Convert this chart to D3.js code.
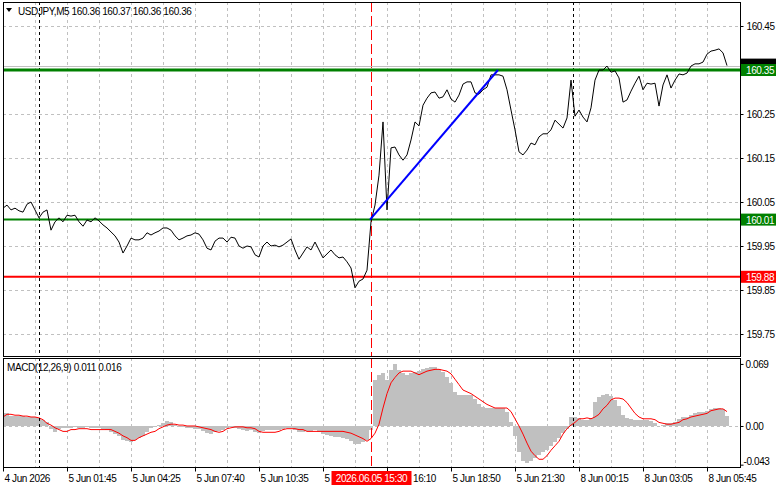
<!DOCTYPE html>
<html>
<head>
<meta charset="utf-8">
<script src="https://cdn.jsdelivr.net/npm/d3@7"></script>
<style>
  body { margin: 0; background: #fff; }
  svg text { font-family: "Liberation Sans", Arial, sans-serif; font-size: 10px; letter-spacing: -0.4px; fill: #000; }
</style>
</head>
<body>
<svg id="chart" width="781" height="489"></svg>
<script>
// close price, sampled every 2nd M5 bar
let closes = [
  160.036,160.043,160.032,160.036,160.030,160.027,160.045,160.050,160.032,160.014,
  160.027,160.032,159.986,160.005,160.014,160.005,160.020,160.018,160.020,160.005,
  159.995,160.009,160.005,160.014,160.007,159.998,159.991,159.982,159.973,159.959,
  159.934,159.950,159.968,159.964,159.964,159.968,159.980,159.975,159.980,159.984,
  159.991,159.991,159.986,159.973,159.964,159.968,159.973,159.975,159.980,159.977,
  159.964,159.945,159.941,159.961,159.968,159.968,159.959,159.970,159.968,159.950,
  159.945,159.950,159.948,159.930,159.925,159.950,159.959,159.950,159.952,159.948,
  159.952,159.959,159.966,159.941,159.920,159.934,159.948,159.941,159.959,159.941,
  159.923,159.932,159.941,159.930,159.923,159.925,159.914,159.900,159.855,159.870,
  159.875,159.895,160.005,160.043,160.111,160.232,160.032,160.173,160.175,160.157,
  160.145,160.157,160.191,160.232,160.223,160.270,160.286,160.298,160.300,160.286,
  160.289,160.305,160.284,160.277,160.293,160.318,160.323,160.323,160.298,160.295,
  160.305,160.311,160.339,160.339,160.339,160.336,160.305,160.259,160.214,160.164,
  160.157,160.168,160.184,160.180,160.198,160.205,160.205,160.214,160.236,160.227,
  160.218,160.241,160.327,160.245,160.259,160.243,160.232,160.264,160.327,160.350,
  160.350,160.359,160.345,160.348,160.332,160.277,160.282,160.302,160.320,160.336,
  160.305,160.320,160.318,160.320,160.268,160.316,160.339,160.309,160.327,160.341,
  160.339,160.343,160.359,160.364,160.364,160.368,160.386,160.393,160.395,160.398,
  160.389,160.360
]

let macdMain = [
  0.014,0.014,0.011,0.011,0.011,0.011,0.010,0.010,0.010,0.009,
  0.007,0.004,-0.003,-0.007,-0.003,-0.002,-0.002,-0.002,-0.001,-0.002,
  -0.002,-0.001,-0.002,-0.002,-0.002,-0.003,-0.004,-0.007,-0.009,-0.011,
  -0.016,-0.017,-0.018,-0.016,-0.013,-0.011,-0.007,-0.002,-0.001,0.001,
  0.003,0.006,0.004,0.001,-0.001,-0.001,-0.002,-0.002,-0.003,-0.003,
  -0.006,-0.008,-0.009,-0.007,-0.006,-0.004,-0.002,-0.001,-0.002,-0.003,
  -0.004,-0.006,-0.004,-0.007,-0.008,-0.006,-0.004,-0.004,-0.004,-0.004,
  -0.003,-0.002,-0.002,-0.004,-0.007,-0.007,-0.006,-0.006,-0.004,-0.007,
  -0.009,-0.010,-0.011,-0.012,-0.012,-0.013,-0.014,-0.017,-0.020,-0.020,
  -0.018,-0.016,-0.004,0.051,0.057,0.059,0.051,0.062,0.069,0.062,
  0.059,0.057,0.059,0.060,0.061,0.063,0.064,0.066,0.066,0.063,
  0.060,0.054,0.048,0.038,0.034,0.034,0.034,0.034,0.030,0.024,
  0.021,0.020,0.020,0.020,0.020,0.020,0.016,0.004,-0.011,-0.029,
  -0.039,-0.041,-0.039,-0.036,-0.032,-0.029,-0.027,-0.022,-0.018,-0.013,
  -0.008,-0.003,0.010,0.010,0.009,0.007,0.007,0.009,0.027,0.032,
  0.034,0.036,0.033,0.029,0.022,0.012,0.009,0.008,0.007,0.007,
  0.007,0.007,0.006,0.003,0.000,0.001,0.003,0.003,0.004,0.008,
  0.010,0.010,0.012,0.014,0.016,0.016,0.017,0.019,0.020,0.020,
  0.019,0.011
]

let macdSignal = [
  0.010,0.013,0.013,0.012,0.012,0.011,0.011,0.010,0.010,0.009,
  0.007,0.003,0.001,-0.002,-0.004,-0.006,-0.006,-0.004,-0.004,-0.003,
  -0.003,-0.003,-0.004,-0.004,-0.004,-0.004,-0.004,-0.004,-0.006,-0.008,
  -0.011,-0.013,-0.016,-0.016,-0.013,-0.011,-0.009,-0.007,-0.006,-0.003,
  -0.001,0.001,0.002,0.002,0.001,0.001,0.000,0.000,0.000,-0.001,
  -0.002,-0.003,-0.004,-0.006,-0.007,-0.006,-0.003,-0.002,-0.001,-0.001,
  -0.001,-0.002,-0.002,-0.003,-0.006,-0.007,-0.007,-0.007,-0.007,-0.006,
  -0.004,-0.003,-0.003,-0.003,-0.004,-0.004,-0.006,-0.006,-0.006,-0.006,
  -0.006,-0.006,-0.006,-0.006,-0.006,-0.006,-0.007,-0.008,-0.010,-0.012,
  -0.014,-0.017,-0.014,-0.008,0.002,0.020,0.036,0.048,0.054,0.059,
  0.061,0.061,0.061,0.059,0.057,0.059,0.061,0.062,0.063,0.063,
  0.062,0.061,0.058,0.052,0.046,0.040,0.038,0.036,0.033,0.030,
  0.027,0.024,0.022,0.020,0.020,0.020,0.020,0.016,0.008,0.000,
  -0.009,-0.019,-0.028,-0.033,-0.037,-0.037,-0.033,-0.027,-0.022,-0.017,
  -0.009,-0.003,0.001,0.004,0.008,0.008,0.009,0.008,0.010,0.013,
  0.019,0.023,0.029,0.031,0.031,0.030,0.026,0.020,0.014,0.010,
  0.008,0.008,0.008,0.007,0.004,0.003,0.002,0.002,0.003,0.004,
  0.007,0.008,0.010,0.011,0.012,0.013,0.014,0.017,0.018,0.019,
  0.019,0.016
]

let timeBars = [0, 32, 64, 96, 128, 160, 192, 224, 256, 288, 320, 352]
let timeLabels = ["4 Jun 2026", "5 Jun 01:45", "5 Jun 04:25", "5 Jun 07:40", "5 Jun 10:35", "5 Jun 13:30",
  "5 Jun 16:10", "5 Jun 18:50", "5 Jun 21:30", "8 Jun 00:15", "8 Jun 03:05", "8 Jun 05:45"]

let priceTicks = [160.45, 160.35, 160.25, 160.15, 160.05, 159.95, 159.85, 159.75]
let macdTicks = [0.069, 0.00, -0.043]
let macdTickLabels = ["0.069", "0.00", "-0.043"]

let levelPrices = [160.35, 160.01, 159.88]
let levelColors = ["#008000", "#008000", "#ff0000"]
let bidPrice = 160.36
let ohlc = [160.36, 160.37, 160.36, 160.36]
let daySeparatorBars = [18, 285]
let markerBar = 184
let markerLabel = "2026.06.05 15:30"
let trendBars = [183.5, 247.5]
let trendPrices = [160.01, 160.35]

let svg = d3.select("#chart")

let left = 3, right = 740
let mainTop = 2, mainBottom = 356
let macdTop = 358, macdBottom = 467

let x = d3.scaleLinear().domain([0, 368]).range([left, left + 736])
let y = d3.scaleLinear().domain([159.70, 160.5023]).range([mainBottom, 3])
let ym = d3.scaleLinear().domain([-0.0456, 0.0756]).range([macdBottom, macdTop])

svg.append("defs").append("clipPath").attr("id", "clipMain")
  .append("rect").attr("x", left).attr("y", mainTop).attr("width", right - left).attr("height", mainBottom - mainTop)
svg.select("defs").append("clipPath").attr("id", "clipMacd")
  .append("rect").attr("x", left).attr("y", macdTop).attr("width", right - left).attr("height", macdBottom - macdTop)

// grid
let gridBars = d3.range(16, 368, 16)
let grid = svg.append("g").attr("stroke", "#c0c0c0").attr("stroke-dasharray", "3,3").attr("shape-rendering", "crispEdges")
gridBars.forEach(b => {
  grid.append("line").attr("x1", Math.round(x(b)) + 0.5).attr("x2", Math.round(x(b)) + 0.5).attr("y1", mainTop).attr("y2", mainBottom)
  grid.append("line").attr("x1", Math.round(x(b)) + 0.5).attr("x2", Math.round(x(b)) + 0.5).attr("y1", macdTop).attr("y2", macdBottom)
})
priceTicks.forEach(p => {
  grid.append("line").attr("x1", left).attr("x2", right).attr("y1", Math.round(y(p)) + 0.5).attr("y2", Math.round(y(p)) + 0.5)
})
grid.append("line").attr("x1", left).attr("x2", right).attr("y1", Math.round(ym(0)) + 0.5).attr("y2", Math.round(ym(0)) + 0.5)

// MACD histogram
let macdG = svg.append("g").attr("clip-path", "url(#clipMacd)")
macdG.selectAll("rect")
  .data(macdMain)
  .join("rect")
  .attr("x", (d, i) => x(2 * i - 1))
  .attr("width", (d, i) => x(2 * i + 1) - x(2 * i - 1))
  .attr("y", d => Math.min(ym(d), ym(0)))
  .attr("height", d => Math.abs(ym(d) - ym(0)))
  .attr("fill", "#c0c0c0")
  .attr("shape-rendering", "crispEdges")

macdG.append("path")
  .datum(macdSignal)
  .attr("fill", "none")
  .attr("stroke", "#ff0000")
  .attr("stroke-width", 1)
  .attr("d", d3.line().x((d, i) => x(2 * i)).y(d => ym(d)))

// separators
daySeparatorBars.forEach(b => {
  let xx = Math.round(x(b)) + 0.5
  ;[[mainTop, mainBottom], [macdTop, macdBottom]].forEach(r => {
    svg.append("line").attr("x1", xx).attr("x2", xx).attr("y1", r[0]).attr("y2", r[1])
      .attr("stroke", "#000").attr("stroke-dasharray", "3,3")
  })
})
let mx = Math.round(x(markerBar)) + 0.5
;[[mainTop, mainBottom], [macdTop, macdBottom]].forEach(r => {
  svg.append("line").attr("x1", mx).attr("x2", mx).attr("y1", r[0]).attr("y2", r[1])
    .attr("stroke", "#ff0000").attr("stroke-dasharray", "10,4")
})

// bid line
svg.append("line").attr("x1", left).attr("x2", right)
  .attr("y1", Math.round(y(bidPrice)) + 0.5).attr("y2", Math.round(y(bidPrice)) + 0.5)
  .attr("stroke", "#c0c0c0")

// levels
levelPrices.forEach((p, i) => {
  svg.append("line").attr("x1", left).attr("x2", right).attr("y1", y(p)).attr("y2", y(p))
    .attr("stroke", levelColors[i]).attr("stroke-width", i == 0 ? 3 : 2)
})

// price line
svg.append("g").attr("clip-path", "url(#clipMain)")
  .append("path")
  .datum(closes)
  .attr("fill", "none")
  .attr("stroke", "#000")
  .attr("stroke-width", 1)
  .attr("d", d3.line().x((d, i) => x(2 * i)).y(d => y(d)))

// trend line
svg.append("line")
  .attr("x1", x(trendBars[0])).attr("y1", y(trendPrices[0]))
  .attr("x2", x(trendBars[1])).attr("y2", y(trendPrices[1]))
  .attr("stroke", "#0000ff").attr("stroke-width", 2)

// frames
let frame = svg.append("g").attr("fill", "none").attr("stroke", "#000").attr("shape-rendering", "crispEdges")
frame.append("rect").attr("x", left + 0.5).attr("y", mainTop + 0.5).attr("width", right - left).attr("height", mainBottom - mainTop)
frame.append("rect").attr("x", left + 0.5).attr("y", macdTop + 0.5).attr("width", right - left).attr("height", macdBottom - macdTop)

// price axis
let yAxis = svg.append("g")
  .attr("transform", `translate(${right + 0.5},0)`)
  .call(d3.axisRight(y).tickValues(priceTicks).tickSize(3).tickPadding(3).tickFormat(d3.format(".2f")))
  .call(g => g.select(".domain").remove())
yAxis.selectAll("text").attr("font-family", null).attr("font-size", null)
  .style("display", d => levelPrices.includes(d) ? "none" : null)
yAxis.selectAll("line").attr("stroke", "#000")

// macd axis
let mAxis = svg.append("g")
  .attr("transform", `translate(${right + 0.5},0)`)
  .call(d3.axisRight(ym).tickValues(macdTicks).tickSize(3).tickPadding(3).tickFormat((d, i) => macdTickLabels[i]))
  .call(g => g.select(".domain").remove())
mAxis.selectAll("text").attr("font-family", null).attr("font-size", null)
  .attr("x", (d, i) => i == 2 ? 3 : 5)
  .attr("dy", (d, i) => i == 2 ? "-0.05em" : "0.32em")
mAxis.selectAll("line").attr("stroke", "#000")

// level labels (bid box mostly hidden behind the 160.35 box)
let bidY = y(bidPrice)
svg.append("rect").attr("x", right + 1).attr("y", bidY - 7).attr("width", 35).attr("height", 12).attr("fill", "#000")
levelPrices.forEach((p, i) => {
  svg.append("rect").attr("x", right + 1).attr("y", y(p) - 6).attr("width", 35).attr("height", 12).attr("fill", levelColors[i])
  svg.append("text").attr("x", right + 6).attr("y", y(p) + 4).text(d3.format(".2f")(p)).style("fill", "#fff")
})

// time axis
let mx0 = mx - 40, mx1 = mx + 40
let xAxis = svg.append("g")
  .attr("transform", `translate(0,${macdBottom + 0.5})`)
  .call(d3.axisBottom(x).tickValues(timeBars).tickSize(4).tickFormat((d, i) => timeLabels[i]))
  .call(g => g.select(".domain").remove())
xAxis.selectAll("text").attr("font-family", null).attr("font-size", null)
  .attr("text-anchor", "start").attr("x", 1).attr("y", 14).attr("dy", 0)
// labels partly covered by the marker box: keep only the visible part
xAxis.selectAll("text").each(function (d, i) {
  let t = d3.select(this)
  let x0 = x(d) + 1
  let w = this.getComputedTextLength()
  if (x0 < mx0 && x0 + w > mx0) {
    t.text(timeLabels[i].split(" ")[0])
  } else if (x0 >= mx0 && x0 < mx1) {
    t.text(timeLabels[i].split(" ").slice(2).join(" ")).attr("x", mx1 - x(d) + 1)
  }
})
xAxis.selectAll("line").attr("stroke", "#000")

// marker time box
svg.append("rect").attr("x", mx0).attr("y", 471).attr("width", 80).attr("height", 14).attr("fill", "#ff0000")
svg.append("text").attr("x", mx).attr("y", 481.5).attr("text-anchor", "middle").text(markerLabel).style("fill", "#fff")

// header
svg.append("path").attr("d", "M6,8 L12,8 L9,12 Z").attr("fill", "#000")
svg.append("text").attr("x", 18).attr("y", 15).text("USDJPY,M5  " + ohlc.map(d3.format(".2f")).join(" "))
svg.append("text").attr("x", 7).attr("y", 371)
  .text("MACD(12,26,9) " + d3.format(".3f")(macdMain[macdMain.length - 1]) + " " + d3.format(".3f")(macdSignal[macdSignal.length - 1]))
</script>
</body>
</html>
